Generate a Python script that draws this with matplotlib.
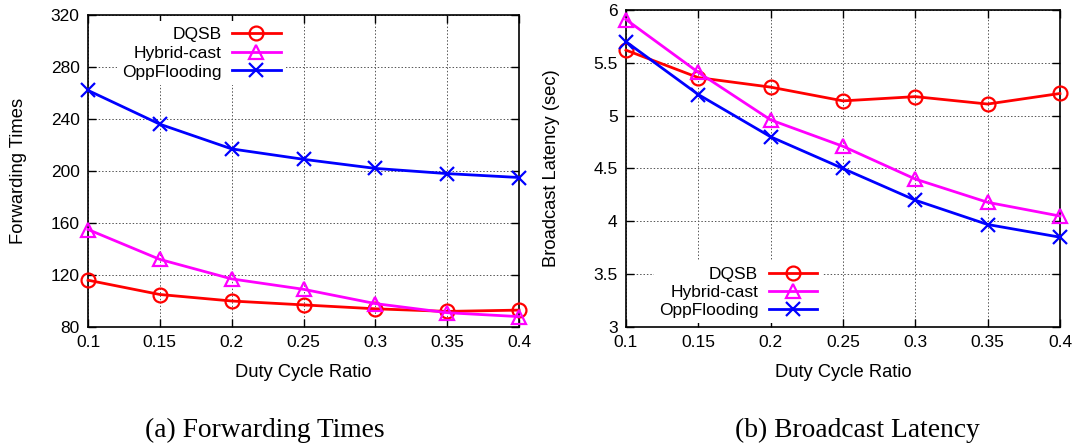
import matplotlib
matplotlib.use("Agg")
import matplotlib.pyplot as plt

duty = [0.1, 0.15, 0.2, 0.25, 0.3, 0.35, 0.4]
xticklabels = ["0.1", "0.15", "0.2", "0.25", "0.3", "0.35", "0.4"]

fwd_dqsb = [116, 105, 100, 97, 94, 92, 93]
fwd_hybrid = [155, 132, 117, 109, 98, 91, 88]
fwd_opp = [262, 236, 217, 209, 202, 198, 195]

lat_dqsb = [5.62, 5.36, 5.27, 5.14, 5.18, 5.11, 5.21]
lat_hybrid = [5.91, 5.41, 4.96, 4.71, 4.40, 4.18, 4.05]
lat_opp = [5.70, 5.20, 4.80, 4.50, 4.20, 3.97, 3.85]

fwd_yticks = [80, 120, 160, 200, 240, 280, 320]
lat_yticks = [3, 3.5, 4, 4.5, 5, 5.5, 6]
lat_yticklabels = ["3", "3.5", "4", "4.5", "5", "5.5", "6"]

series_names = ["DQSB", "Hybrid-cast", "OppFlooding"]
colors = ["#ff0000", "#ff00ff", "#0000ff"]
markers = ["o", "^", "x"]

plt.rcParams['font.family'] = ['Liberation Sans', 'DejaVu Sans']

fig = plt.figure(figsize=(10.75, 4.44), dpi=100)
ax1 = fig.add_axes([0.0819, 0.2635, 0.4009, 0.7027])
ax2 = fig.add_axes([0.5823, 0.2635, 0.4037, 0.714])


def draw(ax, ys, yticks, yticklabels, ylabel, ylabelpad, legend_loc, bbox, lspace):
    for y, name, c, m in zip(ys, series_names, colors, markers):
        ax.plot(duty, y, color=c, marker=m, markersize=10,
                markerfacecolor='none', markeredgecolor=c, markeredgewidth=1.6,
                linewidth=2, label=name, clip_on=False, zorder=3)
    ax.set_xlim(0.1, 0.4)
    ax.set_ylim(yticks[0], yticks[-1])
    ax.set_xticks(duty)
    ax.set_xticklabels(xticklabels)
    ax.set_yticks(yticks)
    ax.set_yticklabels(yticklabels)
    ax.tick_params(direction='in', top=True, right=True, length=6, width=1,
                   labelsize=12.5, pad=6)
    ax.grid(True, linestyle=(0, (1.5, 2)), color='#555555', linewidth=0.7)
    for s in ax.spines.values():
        s.set_linewidth(1.2)
    ax.set_xlabel("Duty Cycle Ratio", fontsize=13.2, labelpad=10)
    ax.set_ylabel(ylabel, fontsize=13.2, labelpad=ylabelpad)
    leg = ax.legend(loc=legend_loc, bbox_to_anchor=bbox, markerfirst=False,
                    frameon=True, fontsize=12.5, handlelength=2.8,
                    handletextpad=0.6, labelspacing=lspace, borderpad=0.3,
                    borderaxespad=0.0, fancybox=False)
    leg.get_frame().set_edgecolor('none')
    leg.get_frame().set_facecolor('white')
    leg.get_frame().set_alpha(1)
    leg.set_zorder(5)


draw(ax1, [fwd_dqsb, fwd_hybrid, fwd_opp], fwd_yticks,
     [str(v) for v in fwd_yticks], "Forwarding Times", 17,
     'upper left', (0.067, 0.98), 0.22)
draw(ax2, [lat_dqsb, lat_hybrid, lat_opp], lat_yticks, lat_yticklabels,
     "Broadcast Latency (sec)", 24, 'lower left', (0.0635, 0.012), 0.17)

fig.text(0.2465, 0.016, "(a) Forwarding Times", ha='center', va='baseline',
         fontsize=19.8, family=['Liberation Serif'])
fig.text(0.798, 0.016, "(b) Broadcast Latency", ha='center', va='baseline',
         fontsize=19.8, family=['Liberation Serif'])

fig.savefig("out.png", dpi=100)
